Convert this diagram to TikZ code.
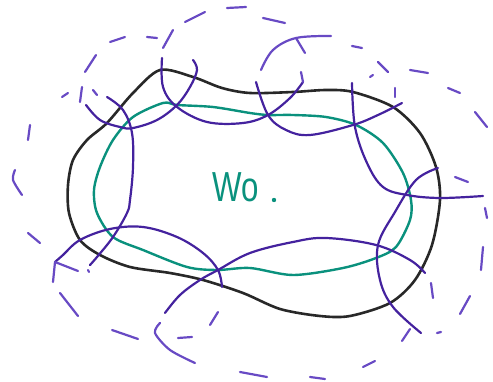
\documentclass[tikz,border=0pt]{standalone}
\usepackage{fontspec}
\setmainfont{Liberation Sans}
\definecolor{inkblack}{RGB}{40,40,40}
\definecolor{inkteal}{RGB}{10,145,125}
\definecolor{inkpurple}{RGB}{68,34,158}
\definecolor{inkdash}{RGB}{104,74,196}
\tikzset{
  blackline/.style={draw=inkblack,line width=2.6pt,line cap=round,line join=round},
  tealline/.style={draw=inkteal,line width=2.4pt,line cap=round,line join=round},
  arcline/.style={draw=inkpurple,line width=2.2pt,line cap=round,line join=round},
  dashpiece/.style={draw=inkdash,line width=2.2pt,line cap=round,line join=round},
}
\begin{document}
\begin{tikzpicture}[x=1pt,y=-1pt]
\useasboundingbox (0,0) rectangle (493,382);
% black closed curve
\draw[blackline] plot[smooth cycle,tension=0.5] coordinates {(160,70) (193,77) (222,88) (250,93) (293,92) (326,90) (353,92) (393,107) (420,133) (436,167) (440,200) (432,245) (415,280) (390,303) (350,316) (320,316) (280,309) (243,293) (203,280) (170,273) (130,267) (100,255) (80,240) (69,213) (68,185) (73,160) (87,140) (107,123) (133,93)};
% teal closed curve
\draw[tealline] plot[smooth cycle,tension=0.5] coordinates {(163,103) (177,105) (213,107) (250,113) (268,115) (293,115) (326,117) (356,125) (383,143) (403,173) (411,200) (410,220) (396,247) (376,258) (343,268) (293,275) (250,268) (217,270) (187,267) (143,250) (113,237) (97,213) (94,190) (100,167) (113,140) (133,117)};
% solid purple arcs
\draw[arcline] plot[smooth,tension=0.6] coordinates {(86,105) (100,120) (120,127) (133,128) (157,120) (177,105) (190,87) (197,70) (193,60)};
\draw[arcline] plot[smooth,tension=0.6] coordinates {(107,97) (123,110) (132,133) (133,167) (130,200) (127,213) (113,237) (97,257) (90,265)};
\draw[arcline] plot[smooth,tension=0.6] coordinates {(162,58) (163,87) (177,107) (207,122) (243,123) (268,115) (290,98) (303,82)};
\draw[arcline] plot[smooth,tension=0.6] coordinates {(256,82) (268,115) (286,130) (310,135) (353,125) (378,115) (402,103)};
\draw[arcline] plot[smooth,tension=0.6] coordinates {(352,83) (355,127) (367,163) (383,187) (407,195) (440,198) (483,196)};
\draw[arcline] plot[smooth,tension=0.6] coordinates {(438,168) (416,180) (395,212) (378,245) (380,280) (393,307) (421,333)};
\draw[arcline] plot[smooth,tension=0.6] coordinates {(55,262) (63,255) (80,240) (110,229) (143,227) (177,237) (203,253) (218,270) (222,287)};
\draw[arcline] plot[smooth,tension=0.6] coordinates {(165,313) (180,295) (200,280) (218,270) (250,253) (293,242) (326,238) (376,245) (410,260) (425,273)};
% top solid-ish arc with stem
\draw[dashpiece] plot[smooth,tension=0.6] coordinates {(261,70) (273,50) (296,38) (331,36)};
\draw[dashpiece] (296,38) -- (305,53);
% dashes
\draw[dashpiece] plot[smooth] coordinates {(15,170) (13,180) (22,195)};
\draw[dashpiece] (30,125) -- (28,140);
\draw[dashpiece] (62,97) -- (68,93);
\draw[dashpiece] (85,72) -- (96,55);
\draw[dashpiece] (110,42) -- (125,37);
\draw[dashpiece] (147,37) -- (157,38);
\draw[dashpiece] (163,48) -- (173,30);
\draw[dashpiece] (185,22) -- (205,12);
\draw[dashpiece] (227,8) -- (246,7);
\draw[dashpiece] (263,18) -- (285,23);
\draw[dashpiece] (301,72) -- (303,82);
\draw[dashpiece] (352,46) -- (362,48);
\draw[dashpiece] (378,62) -- (388,72);
\draw[dashpiece] (370,77) -- (373,75);
\draw[dashpiece] (410,70) -- (428,73);
\draw[dashpiece] (395,88) -- (395,97);
\draw[dashpiece] (448,88) -- (460,93);
\draw[dashpiece] (475,112) -- (487,127);
\draw[dashpiece] (455,177) -- (468,182);
\draw[dashpiece] (485,208) -- (487,218);
\draw[dashpiece] (483,247) -- (481,270);
\draw[dashpiece] (470,296) -- (460,314);
\draw[dashpiece] (437,333) -- (441,332);
\draw[dashpiece] (410,329) -- (402,341);
\draw[dashpiece] (375,361) -- (363,367);
\draw[dashpiece] (310,377) -- (325,379);
\draw[dashpiece] (240,372) -- (267,377);
\draw[dashpiece] plot[smooth] coordinates {(195,363) (170,350) (155,333) (160,323)};
\draw[dashpiece] (178,338) -- (192,337);
\draw[dashpiece] (218,312) -- (210,325);
\draw[dashpiece] (112,330) -- (138,339);
\draw[dashpiece] (60,293) -- (78,316);
\draw[dashpiece] (28,233) -- (40,243);
\draw[dashpiece] (55,262) -- (53,282);
\draw[dashpiece] (55,262) -- (78,271);
\draw[dashpiece] (88,270) -- (89,272);
\draw[dashpiece] (82,87) -- (80,102);
\draw[dashpiece] (93,90) -- (97,95);
\draw[dashpiece] (431,283) -- (433,298);
% label
\node[text=inkteal,anchor=base west,inner sep=0pt] (label) at (212,202) {\scalebox{0.78}[1.05]{\fontsize{40}{40}\selectfont Wo}};
\fill[inkteal] (274,200) circle (2.2pt);
\end{tikzpicture}
\end{document}
